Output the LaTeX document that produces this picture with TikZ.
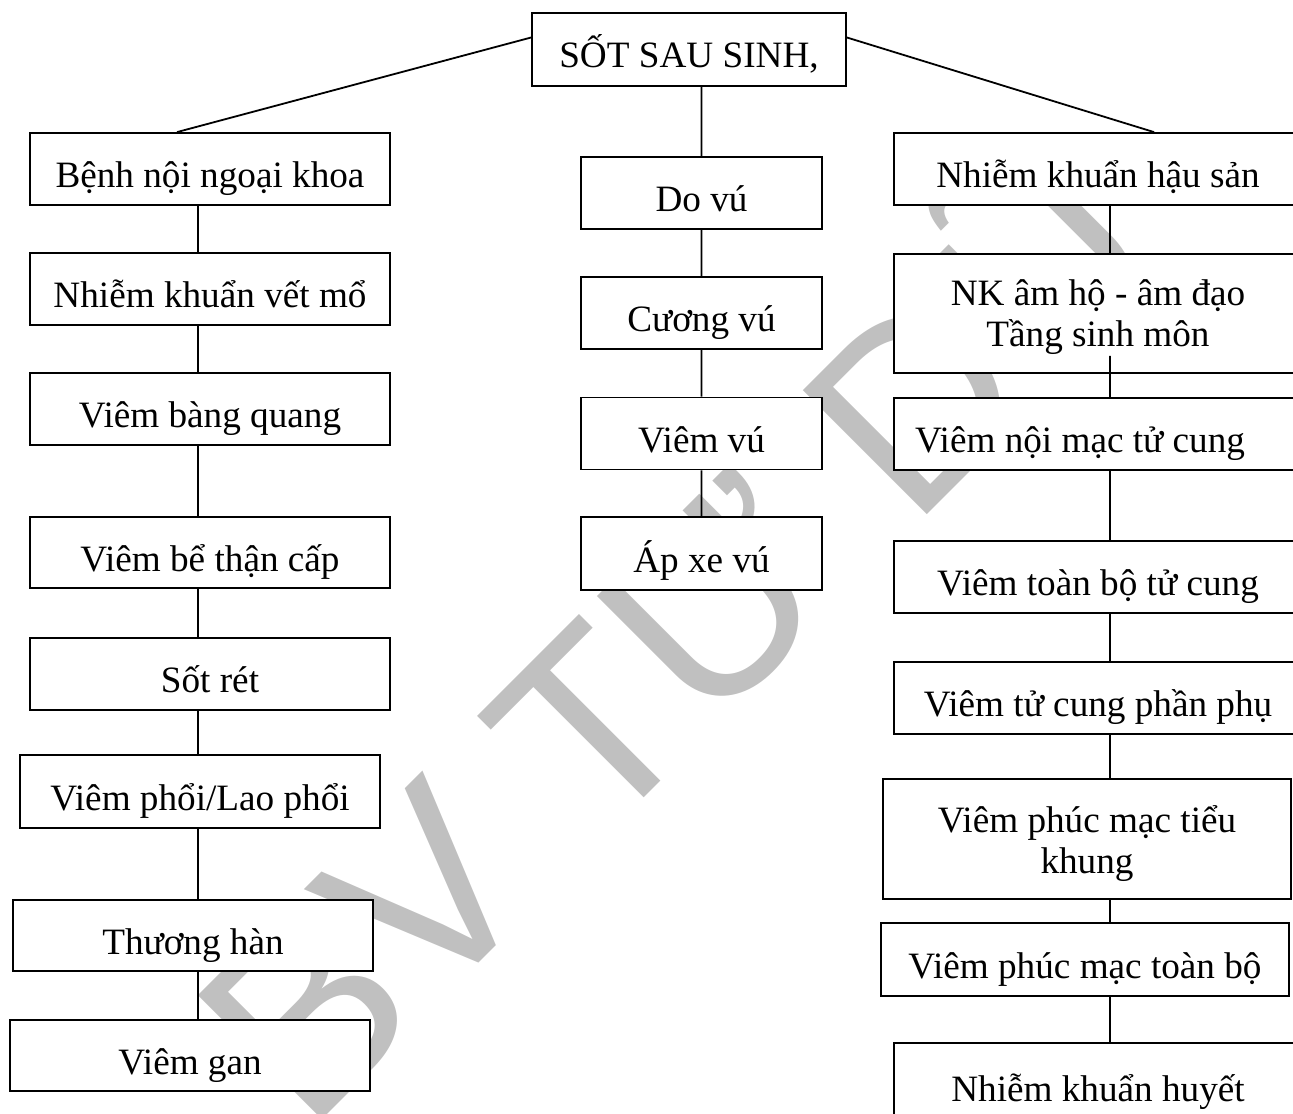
\documentclass[tikz,border=0pt]{standalone}
\usepackage{fontspec}
\setmainfont{Liberation Serif}
\newfontfamily\wmfont{Liberation Sans}
\definecolor{wmgray}{RGB}{192,192,192}

\begin{document}
\begin{tikzpicture}[x=0.5pt,y=-0.5pt,
        bx/.style={draw, fill=white, line width=0.9pt, inner sep=0pt, align=center,
            text height=18.5pt, text depth=0pt,
            font=\fontsize{18.6}{20.6}\selectfont},
        twoline/.style={text width=196pt, align=flush center, text height=12pt, text depth=#1},
        lbox/.style={bx, minimum width=180pt, minimum height=36pt},
        mbox/.style={bx, minimum width=120.5pt, minimum height=36pt},
        rbox/.style={bx, minimum width=204pt, minimum height=36pt},
        wm/.style={text=wmgray, font=\fontsize{127.5}{130}\wmfont, inner sep=0pt}]
        \useasboundingbox (0,0) rectangle (1293,1113);
        \clip (0,0) rectangle (1293,1113);

        \node[wm, rotate=45, anchor=base west] (wmark) at (307,1135) {BV TỪ DŨ};

        \node[bx, minimum width=157pt, minimum height=36.5pt] (sot) at (689,49.5) {SỐT SAU SINH,};

        \node[lbox] (benh) at (210,169) {Bệnh nội ngoại khoa};
        \node[lbox] (vetmo) at (210,289) {Nhiễm khuẩn vết mổ};
        \node[lbox] (bangquang) at (210,409) {Viêm bàng quang};
        \node[lbox, minimum height=35.5pt] (bethan) at (210,552.5) {Viêm bể thận cấp};
        \node[lbox] (sotret) at (210,674) {Sốt rét};
        \node[lbox, minimum height=36.5pt] (viemphoi) at (200,791.5) {Viêm phổi/Lao phổi};
        \node[lbox, minimum height=35.5pt] (thuonghan) at (193,935.5) {Thương hàn};
        \node[lbox, minimum height=35.5pt] (viemgan) at (190,1055.5) {Viêm gan};

        \node[mbox] (dovu) at (701.5,193) {Do vú};
        \node[mbox] (cuongvu) at (701.5,313) {Cương vú};
        \node[mbox] (viemvu) at (701.5,433.5) {Viêm vú};
        \node[mbox, minimum height=36.5pt] (apxe) at (701.5,553.5) {Áp xe vú};

        \node[rbox] (hausan) at (1098,169) {Nhiễm khuẩn hậu sản};
        \node[rbox, twoline=20.5pt, minimum height=59.5pt] (nkam) at (1098,313.5)
            {NK âm hộ - âm đạo\\Tầng sinh môn};
        \node[rbox] (noimac) at (1098,434) {\hspace*{-18pt}Viêm nội mạc tử cung};
        \node[rbox] (toanbo) at (1098,577) {Viêm toàn bộ tử cung};
        \node[rbox] (phanphu) at (1098,698) {Viêm tử cung phần phụ};
        \node[rbox, twoline=19pt, minimum height=60pt] (tieukhung) at (1087,839)
            {Viêm phúc mạc tiểu\\khung};
        \node[rbox, minimum height=36.5pt] (pmtoanbo) at (1085,959.5) {Viêm phúc mạc toàn bộ};
        \node[rbox, minimum height=40pt] (nkhuyet) at (1098,1083) {Nhiễm khuẩn huyết};

        \coordinate (lx) at (198,0);
        \coordinate (rx) at (1110,0);

        \draw[line width=0.9pt]
            ([yshift=6pt]sot.west) -- ([xshift=-16.5pt]benh.north)
            ([yshift=6pt]sot.east) -- ([xshift=28pt]hausan.north)
            (sot.south -| dovu.north) -- (dovu.north)

            (benh.south -| lx) -- (vetmo.north -| lx)
            (vetmo.south -| lx) -- (bangquang.north -| lx)
            (bangquang.south -| lx) -- (bethan.north -| lx)
            (bethan.south -| lx) -- (sotret.north -| lx)
            (sotret.south -| lx) -- (viemphoi.north -| lx)
            (viemphoi.south -| lx) -- (thuonghan.north -| lx)
            (thuonghan.south -| lx) -- (viemgan.north -| lx)

            (dovu.south) -- (cuongvu.north)
            (cuongvu.south) -- (viemvu.north)
            (viemvu.south) -- (apxe.north)

            (hausan.south -| rx) -- (nkam.north -| rx)
            ([yshift=9pt]nkam.south -| rx) -- (noimac.north -| rx)
            (noimac.south -| rx) -- (toanbo.north -| rx)
            (toanbo.south -| rx) -- (phanphu.north -| rx)
            (phanphu.south -| rx) -- (tieukhung.north -| rx)
            (tieukhung.south -| rx) -- (pmtoanbo.north -| rx)
            (pmtoanbo.south -| rx) -- (nkhuyet.north -| rx)
            ;

    \end{tikzpicture}
\end{document}
